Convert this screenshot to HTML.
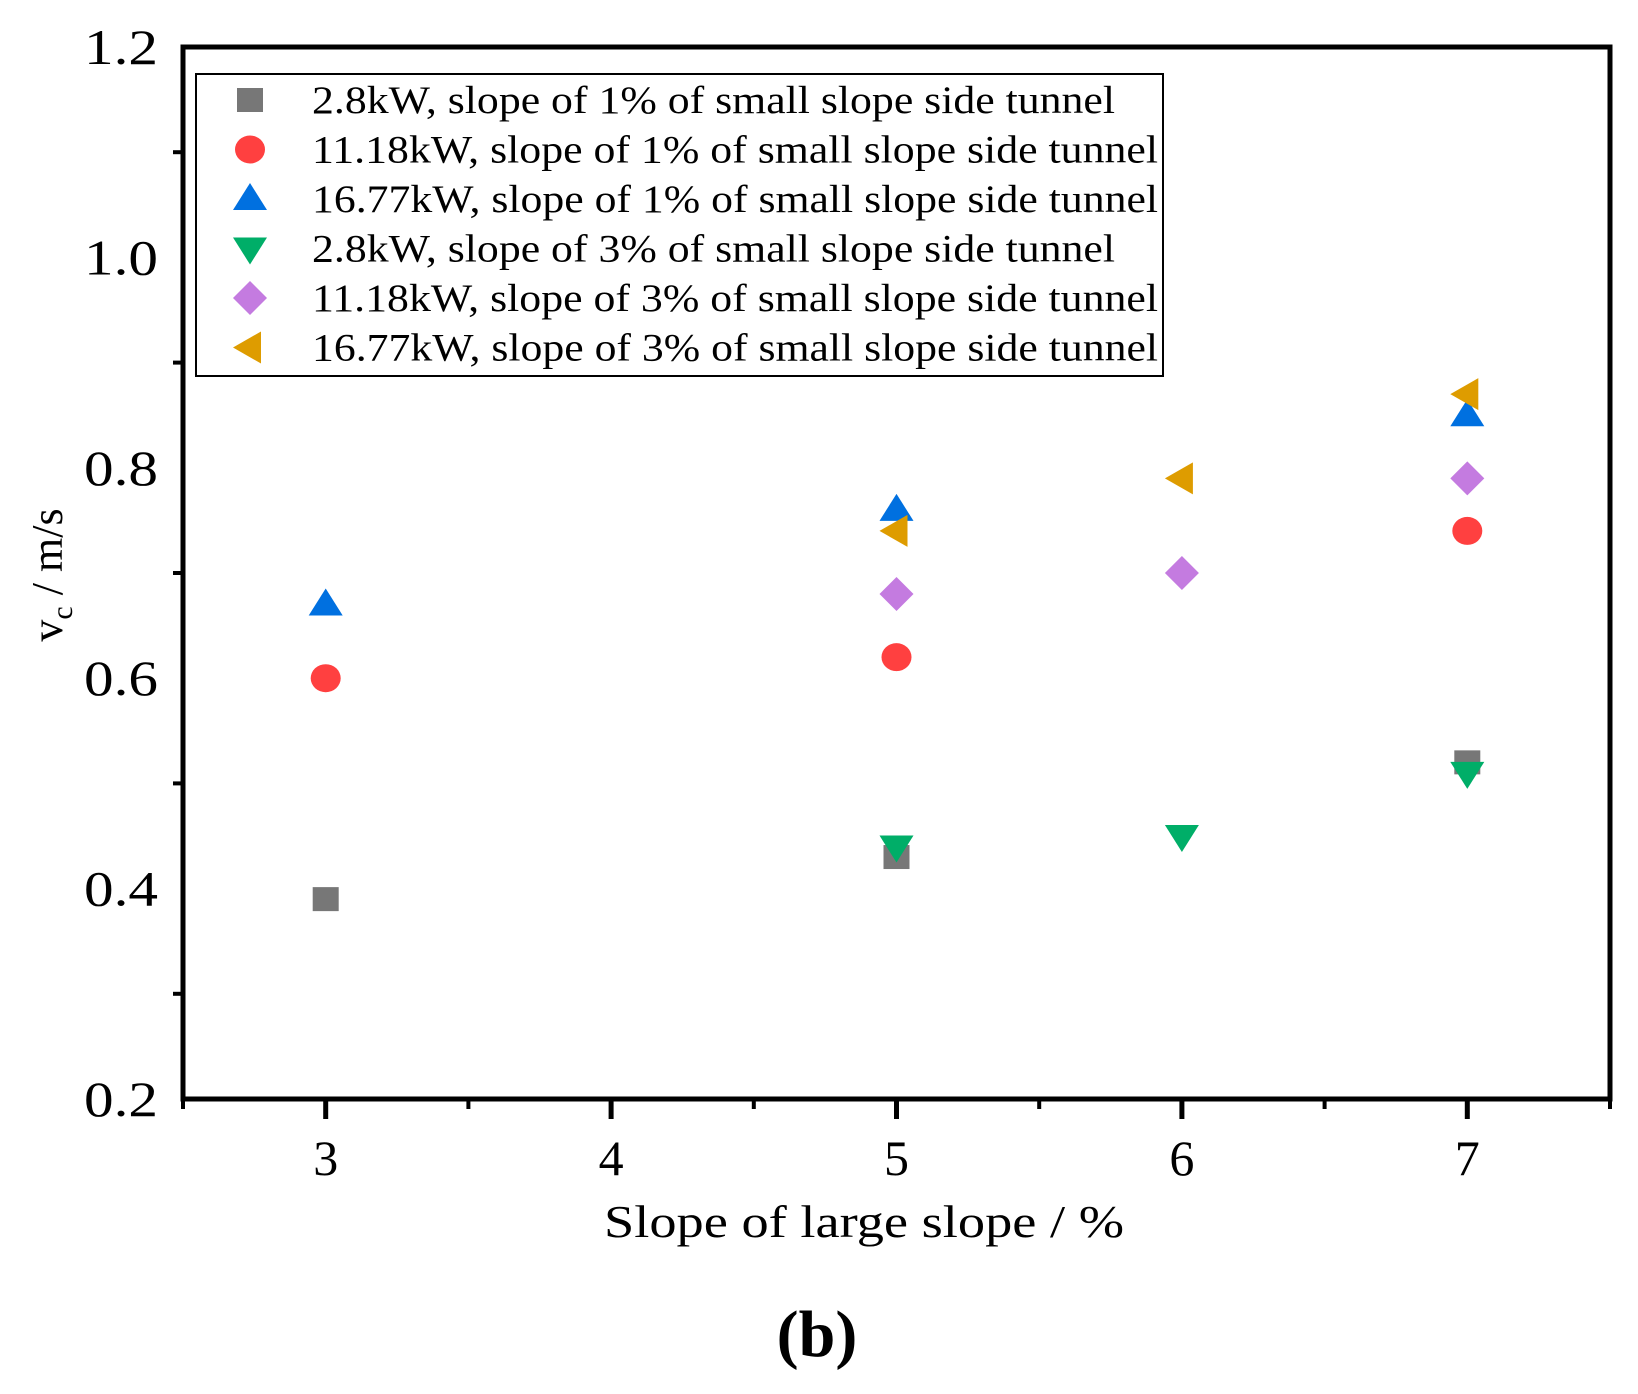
<!DOCTYPE html>
<html><head><meta charset="utf-8"><style>
html,body{margin:0;padding:0;background:#fff;}
svg{display:block;}
text{font-family:"Liberation Serif",serif;fill:#000;}
</style></head><body>
<svg id="chart" width="1638" height="1394" viewBox="0 0 1638 1394">
<g id="marks"></g>
<g id="axes"></g>
<g id="legend"></g>
<text x="604" y="1237" font-size="46" textLength="520" lengthAdjust="spacingAndGlyphs">Slope of large slope / %</text>
<text transform="translate(62,575) rotate(-90)" font-size="44" text-anchor="middle">v<tspan font-size="30" dy="10">c</tspan><tspan dy="-10"> / m/s</tspan></text>
<text x="817" y="1356" font-size="66" font-weight="bold" text-anchor="middle">(b)</text>
</svg>
<script>
const xTicks=[3,4,5,6,7];
const yTicks=[0.2,0.4,0.6,0.8,1.0,1.2];
const yTickLabels=["0.2","0.4","0.6","0.8","1.0","1.2"];
const seriesNames=["2.8kW, slope of 1% of small slope side tunnel","11.18kW, slope of 1% of small slope side tunnel","16.77kW, slope of 1% of small slope side tunnel","2.8kW, slope of 3% of small slope side tunnel","11.18kW, slope of 3% of small slope side tunnel","16.77kW, slope of 3% of small slope side tunnel"];
const s1x=[3,5,7], s1y=[0.39,0.43,0.52];
const s2x=[3,5,7], s2y=[0.60,0.62,0.74];
const s3x=[3,5,7], s3y=[0.67,0.76,0.85];
const s4x=[5,6,7], s4y=[0.44,0.45,0.51];
const s5x=[5,6,7], s5y=[0.68,0.70,0.79];
const s6x=[5,6,7], s6y=[0.74,0.79,0.87];

const NS="http://www.w3.org/2000/svg";
const X0=183,X1=1610,Y0=1099,Y1=47;
function xs(v){return X0+(v-2.5)/5*(X1-X0);}
function ys(v){return Y0-(v-0.2)/1.0*(Y0-Y1);}
function mk(tag,attrs,parent){const e=document.createElementNS(NS,tag);for(const k in attrs)e.setAttribute(k,attrs[k]);parent.appendChild(e);return e;}

const styles=[
 {shape:"square",color:"#777777"},
 {shape:"circle",color:"#ff4040"},
 {shape:"up",color:"#0070e0"},
 {shape:"down",color:"#00ae68"},
 {shape:"diamond",color:"#c47be0"},
 {shape:"left",color:"#de9c00"}];
function marker(shape,cx,cy,color,parent){
 let e;
 if(shape==="square") e=mk("rect",{x:cx-13,y:cy-12,width:26,height:24,fill:color},parent);
 else if(shape==="circle") e=mk("ellipse",{cx:cx,cy:cy,rx:15,ry:14,fill:color},parent);
 else if(shape==="up") e=mk("polygon",{points:`${cx},${cy-16} ${cx+17},${cy+11} ${cx-17},${cy+11}`,fill:color},parent);
 else if(shape==="down") e=mk("polygon",{points:`${cx},${cy+16} ${cx+17},${cy-11} ${cx-17},${cy-11}`,fill:color},parent);
 else if(shape==="diamond") e=mk("polygon",{points:`${cx},${cy-17} ${cx+17},${cy} ${cx},${cy+17} ${cx-17},${cy}`,fill:color},parent);
 else e=mk("polygon",{points:`${cx-17},${cy} ${cx+11},${cy-16} ${cx+11},${cy+16}`,fill:color},parent);
 return e;
}

const axes=document.getElementById("axes");
const frame=mk("rect",{x:X0,y:Y1,width:X1-X0,height:Y0-Y1,fill:"none",stroke:"#000","stroke-width":5},axes);


for(let v=2.5;v<=7.51;v+=0.5){
 const x=xs(v);const major=Math.abs(v-Math.round(v))<0.01 && v>=3;
 const t=mk("line",{x1:x,x2:x,y1:Y0,y2:Y0+(major?20:10),stroke:"#000","stroke-width":major?5:4},axes);
 
 
}
xTicks.forEach(v=>{
 const t=mk("text",{x:xs(v),y:1175,"font-size":50,"text-anchor":"middle"},axes);t.textContent=String(v);
 
 
});
for(let v=0.3;v<1.2;v+=0.2){
 const y=ys(v);
 const t=mk("line",{x1:X0-10,x2:X0,y1:y,y2:y,stroke:"#000","stroke-width":4},axes);
 
 
}
yTicks.forEach((v,i)=>{
 const t=mk("text",{x:84,y:ys(v)+17,"font-size":50,textLength:74,lengthAdjust:"spacingAndGlyphs"},axes);t.textContent=yTickLabels[i];
 
 
});

const marks=document.getElementById("marks");
const allX=[s1x,s2x,s3x,s4x,s5x,s6x], allY=[s1y,s2y,s3y,s4y,s5y,s6y];
allX.forEach((xa,si)=>{
 xa.forEach((xv,j)=>{
  const e=marker(styles[si].shape,xs(xv),ys(allY[si][j]),styles[si].color,marks);
  
  
 });
});

const lg=document.getElementById("legend");
const box=mk("rect",{x:196,y:74,width:967,height:302,fill:"#fff",stroke:"#000","stroke-width":2},lg);


seriesNames.forEach((n,i)=>{
 const cy=100+i*49.5;
 const m=marker(styles[i].shape,250,cy,styles[i].color,lg);
 
 
 const w=n.startsWith("2.8")?803:846;
 const t=mk("text",{x:312,y:cy+13,"font-size":39,textLength:w,lengthAdjust:"spacingAndGlyphs"},lg);t.textContent=n;
 
 
});
</script>
</body></html>
